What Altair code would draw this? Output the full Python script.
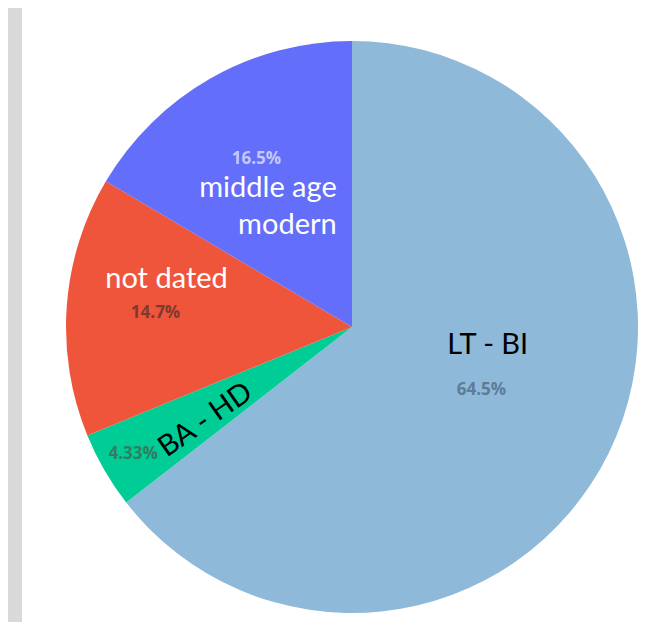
import altair as alt
import pandas as pd

categories = ["LT - BI", "BA - HD", "not dated", "middle age modern"]
shares = [64.5, 4.33, 14.7, 16.5]
pct_labels = ["64.5%", "4.33%", "14.7%", "16.5%"]
name_labels = ["LT - BI", "BA - HD", "not dated", "middle age\nmodern"]
slice_colors = ["#8FB9D9", "#00CC96", "#EF553B", "#636EFA"]

df = pd.DataFrame({
    "category": categories,
    "share": shares,
    "pct": pct_labels,
    "name": name_labels,
    "idx": list(range(len(categories))),
})

CX, CY = 330, 319
R = 286

base = alt.Chart(df).encode(
    theta=alt.Theta("share:Q", stack=True),
    order=alt.Order("idx:Q"),
    x=alt.value(CX),
    y=alt.value(CY),
)

arcs = base.mark_arc(outerRadius=R).encode(
    color=alt.Color("category:N", scale=alt.Scale(domain=categories, range=slice_colors), legend=None)
)


def label(cat, field, radius, color, size, weight="normal", dx=0, dy=0, angle=0,
          align="center", baseline="middle", font="Open Sans"):
    return base.mark_text(
        radius=radius, dx=dx, dy=dy, angle=angle, align=align, baseline=baseline,
        font=font, fontSize=size, fontWeight=weight, color=color,
        lineBreak="\n", lineHeight=37,
    ).encode(
        text=alt.condition(alt.datum.category == cat, alt.Text(f"{field}:N"), alt.value(""))
    )


layers = [
    arcs,
    label("LT - BI", "pct", 144, "#5d7c96", 17, "bold"),
    label("BA - HD", "pct", 253, "#2f7d62", 17, "bold"),
    label("not dated", "pct", 197, "#7d3a2e", 17, "bold"),
    label("middle age modern", "pct", 193, "#c6c9f8", 17, "bold"),
    label("LT - BI", "name", 140, "#000000", 29, dx=10, dy=-35, baseline="alphabetic", font="Lato"),
    label("not dated", "name", 190, "#ffffff", 29, dx=4, dy=-25, baseline="alphabetic", font="Lato"),
    label("middle age modern", "name", 150, "#ffffff", 29, dx=59, dy=0, align="right",
          baseline="alphabetic", font="Lato"),
    label("BA - HD", "name", 176, "#000000", 29, dx=2, dy=7, angle=325, font="Lato"),
]

chart = alt.layer(*layers).properties(
    width=620,
    height=614,
    background="#d9d9d9",
    padding={"left": 14, "top": 0, "right": 0, "bottom": 0},
).configure_view(fill="white", stroke=None)

chart.save("out.html", embed_options={"renderer": "svg", "actions": False})
